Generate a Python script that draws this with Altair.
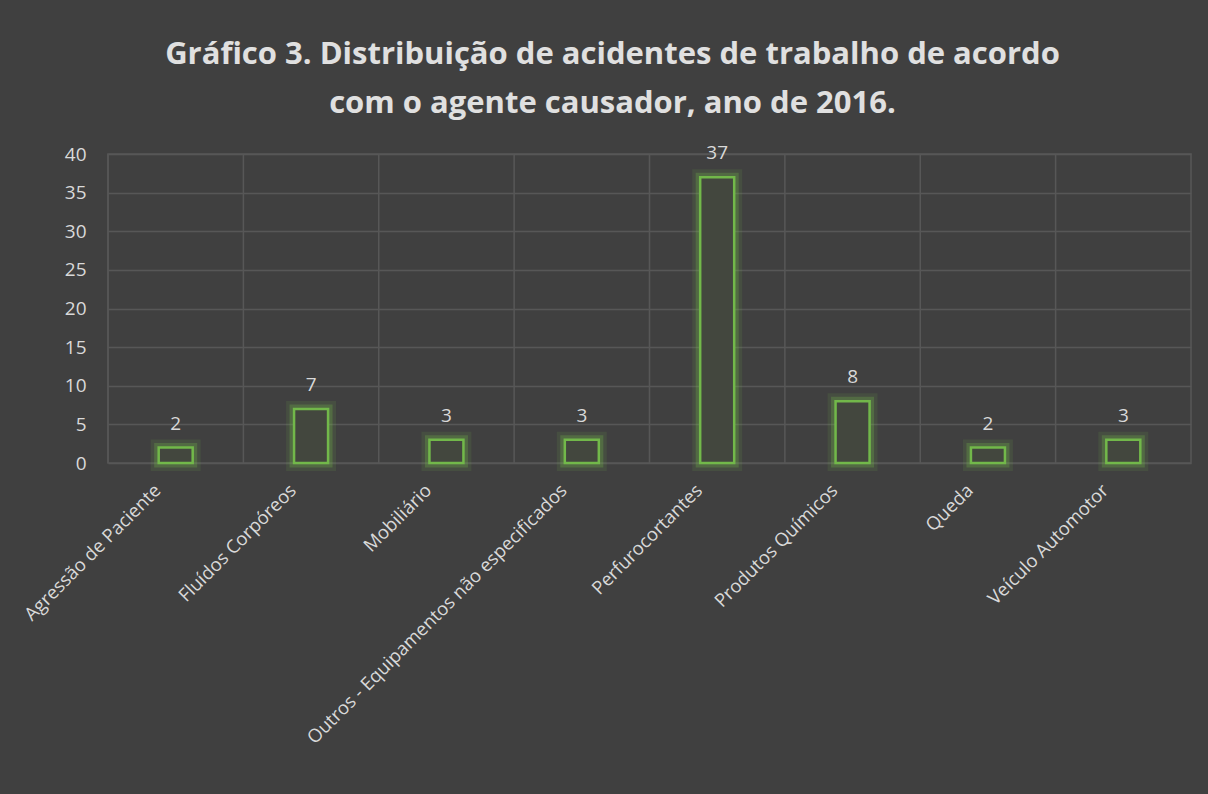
import altair as alt
import pandas as pd

categories = [
    "Agressão de Paciente",
    "Fluídos Corpóreos",
    "Mobiliário",
    "Outros - Equipamentos não especificados",
    "Perfurocortantes",
    "Produtos Químicos",
    "Queda",
    "Veículo Automotor",
]
values = [2, 7, 3, 3, 37, 8, 2, 3]
y_ticks = [0, 5, 10, 15, 20, 25, 30, 35, 40]

df = pd.DataFrame({"cat": categories, "n": values})

FONT = "Open Sans"
TXT = "#d9d9d9"
GRID = "#575757"
GREEN = "#72b84a"

x_enc = alt.X(
    "cat:N",
    sort=categories,
    title=None,
    scale=alt.Scale(paddingInner=0, paddingOuter=0),
    axis=alt.Axis(
        labelAngle=-45,
        labelAlign="right",
        labelBaseline="middle",
        labelColor=TXT,
        labelFont=FONT,
        labelFontSize=18.5,
        labelPadding=24,
        labelOffset=-18,
        labelLimit=600,
        ticks=False,
        domain=False,
        grid=False,
    ),
)
y_enc = alt.Y(
    "n:Q",
    title=None,
    scale=alt.Scale(domain=[0, 40], nice=False),
    axis=alt.Axis(
        values=y_ticks,
        labelColor=TXT,
        labelFont=FONT,
        labelFontSize=19,
        labelPadding=22,
        ticks=False,
        domain=False,
        gridColor=GRID,
        gridWidth=1.5,
    ),
)

base = alt.Chart(df)

vgrid = base.mark_rule(color=GRID, strokeWidth=1.5).encode(
    x=alt.X("cat:N", sort=categories, bandPosition=0)
)

glow1 = base.mark_bar(size=34, fillOpacity=0, stroke=GREEN, strokeWidth=16, strokeOpacity=0.12).encode(
    x=x_enc, y=y_enc
)
glow2 = base.mark_bar(size=34, fillOpacity=0, stroke=GREEN, strokeWidth=9, strokeOpacity=0.28).encode(
    x=x_enc, y=y_enc
)
bars = base.mark_bar(size=34, fill="#43473e", stroke=GREEN, strokeWidth=2.5).encode(
    x=x_enc, y=y_enc
)
labels = base.mark_text(baseline="bottom", dy=-14, font=FONT, fontSize=19, color=TXT).encode(
    x=x_enc, y=y_enc, text="n:Q"
)

chart = (
    alt.layer(vgrid, glow1, glow2, bars, labels)
    .properties(
        width=1083,
        height=309,
        background="#404040",
        padding={"left": 108, "top": 154, "right": 17, "bottom": 331},
        autosize=alt.AutoSizeParams(type="none"),
        title=alt.TitleParams(
            ["Gráfico 3. Distribuição de acidentes de trabalho de acordo",
             "com o agente causador, ano de 2016."],
            font=FONT,
            fontSize=31,
            fontWeight="bold",
            color="#e0e0e0",
            anchor="middle",
            dx=-37,
            lineHeight=49,
            offset=24,
        ),
    )
    .configure_view(stroke=GRID, strokeWidth=1.5)
)

chart.save("out.html", embed_options={"renderer": "svg", "actions": False})
